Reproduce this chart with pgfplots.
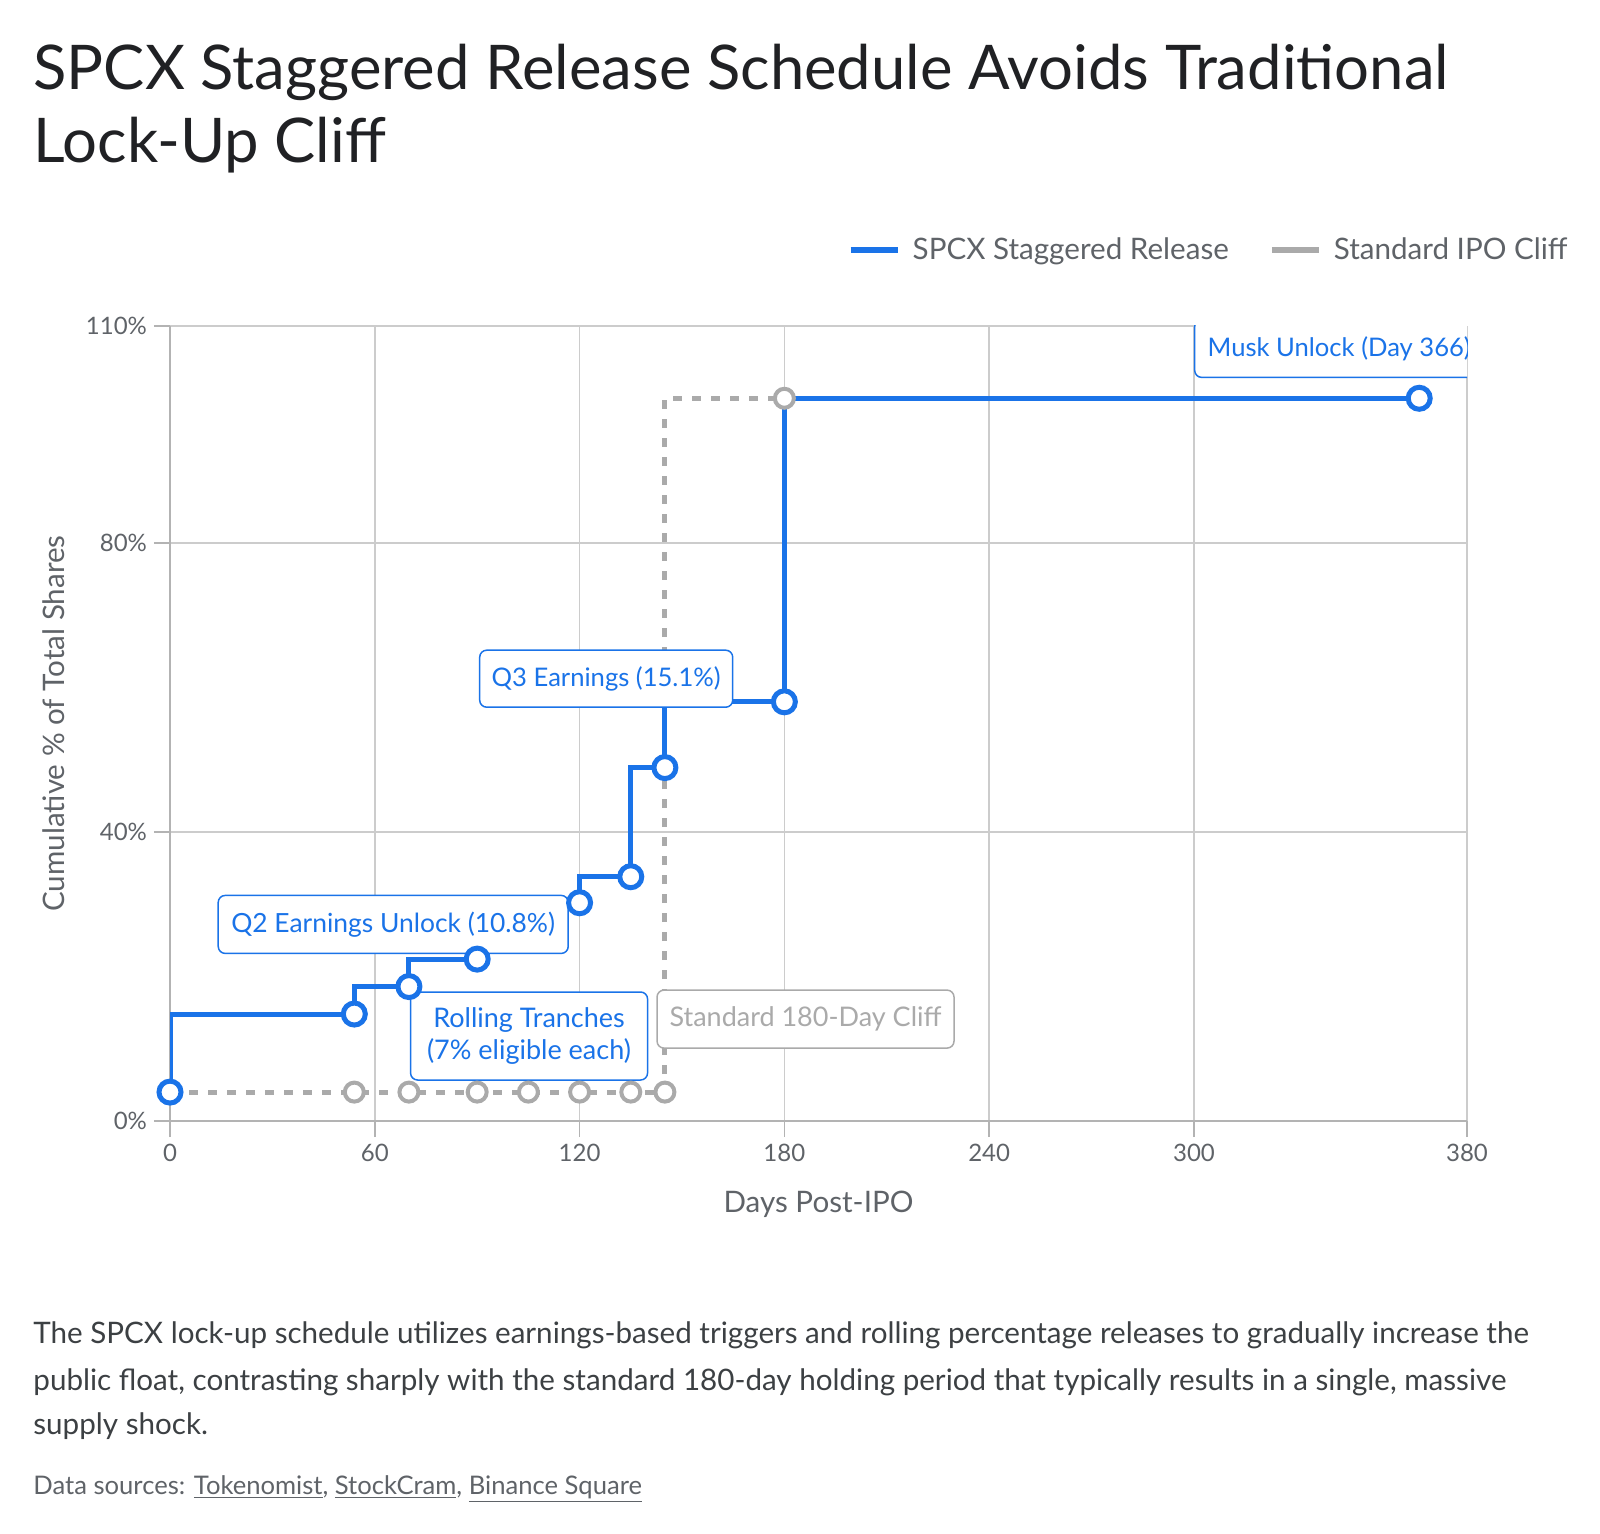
\documentclass[border=0pt]{standalone}
\usepackage{fontspec}
\setmainfont{Lato}
\usepackage{pgfplots}
\pgfplotsset{compat=1.18}
\definecolor{gblue}{HTML}{1A73E8}
\definecolor{ggray}{HTML}{AAAAAA}
\definecolor{gridc}{HTML}{CCCCCC}
\definecolor{axc}{HTML}{B3B3B3}
\definecolor{txt}{HTML}{202124}
\definecolor{sub}{HTML}{5F6368}
\definecolor{body}{HTML}{3C4043}
\begin{document}
\begin{tikzpicture}
\begin{scope}[x=0.5pt,y=-0.5pt]
\path[use as bounding box] (0,0) rectangle (1600,1534);
\node[anchor=base west, inner sep=0, text=txt, font=\fontsize{30.8}{36}\selectfont] at (33,90) {SPCX Staggered Release Schedule Avoids Traditional};
\node[anchor=base west, inner sep=0, text=txt, font=\fontsize{30.8}{36}\selectfont] at (33,163) {Lock-Up Cliff};
\node[anchor=base west, inner sep=0, text=body, font=\fontsize{14.8}{17}\selectfont] at (33,1343) {The SPCX lock-up schedule utilizes earnings-based triggers and rolling percentage releases to gradually increase the};
\node[anchor=base west, inner sep=0, text=body, font=\fontsize{14.8}{17}\selectfont] at (33,1390) {public float, contrasting sharply with the standard 180-day holding period that typically results in a single, massive};
\node[anchor=base west, inner sep=0, text=body, font=\fontsize{14.8}{17}\selectfont] at (33,1434) {supply shock.};
\node[anchor=base west, inner sep=0, text=sub, font=\fontsize{12.8}{15}\selectfont] at (33,1494) {Data sources: \underline{Tokenomist}, \underline{StockCram}, \underline{Binance Square}};
\end{scope}
\begin{axis}[
  at={(85pt,-560.5pt)}, anchor=south west,
  scale only axis, width=648.5pt, height=397.5pt,
  xmin=0, xmax=380, ymin=0, ymax=110,
  xtick={0,60,120,180,240,300,380},
  xticklabels={0,60,120,180,240,300,380},
  ytick={0,40,80,110},
  yticklabels={0\%,40\%,80\%,110\%},
  axis lines=left, axis line style={-, draw=axc, line width=1pt},
  grid=major, grid style={gridc, line width=0.75pt},
  tick align=outside, major tick length=8pt,
  tick style={axc, line width=0.75pt},
  ticklabel style={font=\fontsize{12}{14}\selectfont, text=sub},
  xlabel={Days Post-IPO}, ylabel={Cumulative \% of Total Shares},
  label style={font=\fontsize{14.8}{17}\selectfont, text=sub},
  xlabel style={at={(axis description cs:0.5,-0.1044)}, anchor=center},
  ylabel style={at={(axis description cs:-0.0894,0.5)}, anchor=center},
  legend style={at={(axis description cs:1.0856,1.0956)}, anchor=east, draw=none, fill=none,
     font=\fontsize{14.8}{17}\selectfont, text=sub,
     /tikz/every odd column/.append style={column sep=4pt},
     /tikz/every even column/.append style={column sep=18pt}},
  legend columns=-1,
  legend image code/.code={\draw[#1, solid, line width=3pt] (0pt,0pt) -- (23.5pt,0pt);},
]
\addlegendimage{gblue}
\addlegendentry{SPCX Staggered Release}
\addlegendimage{ggray}
\addlegendentry{Standard IPO Cliff}
\addplot[forget plot, ggray, line width=2.5pt, dash pattern=on 4.5pt off 5pt, const plot mark right] coordinates {
 (0,4.0) (54,4.0) (70,4.0) (90,4.0) (105,4.0) (120,4.0) (135,4.0) (145,4.0) (180,100)};
\addplot[forget plot, gblue, line width=2.5pt, const plot mark right] coordinates {
 (0,4.0) (54,14.8) (70,18.6) (90,22.4) (120,30.2) (135,33.8) (145,48.9) (180,58.0) (366,100)};
\addplot[forget plot, only marks, mark=*, mark size=4.75pt, mark options={draw=ggray, fill=white, line width=2pt, solid}] coordinates {
 (0,4.0) (54,4.0) (70,4.0) (90,4.0) (105,4.0) (120,4.0) (135,4.0) (145,4.0) (180,100)};
\addplot[forget plot, only marks, mark=*, mark size=5.5pt, mark options={draw=gblue, fill=white, line width=2.5pt}] coordinates {
 (0,4.0) (54,14.8) (70,18.6) (90,22.4) (120,30.2) (135,33.8) (145,48.9) (180,58.0) (366,100)};
\tikzset{ann/.style={fill=white, rounded corners=3.5pt, line width=0.75pt, inner sep=0pt, font=\fontsize{13.5}{15.8}\selectfont, align=center}}
\node[ann, draw=gblue, text=gblue, minimum width=175pt, minimum height=29pt, font=\fontsize{13.2}{15.8}\selectfont] at (axis cs:65.4,27.2) {Q2 Earnings Unlock (10.8\%)};
\node[ann, draw=gblue, text=gblue, minimum width=118.5pt, minimum height=44pt] at (axis cs:105.2,11.76) {Rolling Tranches\\(7\% eligible each)};
\node[ann, draw=gblue, text=gblue, minimum width=126.5pt, minimum height=28.5pt, font=\fontsize{12.8}{15.8}\selectfont] at (axis cs:127.8,61.2) {Q3 Earnings (15.1\%)};
\node[ann, draw=ggray, text=ggray, minimum width=148.5pt, minimum height=29pt] at (axis cs:186.2,14.1) {Standard 180-Day Cliff};
\node[ann, draw=gblue, text=gblue, inner xsep=6.5pt, minimum height=29pt, anchor=west, font=\fontsize{12.8}{15.8}\selectfont] at (axis cs:300,106.9) {Musk Unlock (Day 366)};
\end{axis}
\end{tikzpicture}
\end{document}
